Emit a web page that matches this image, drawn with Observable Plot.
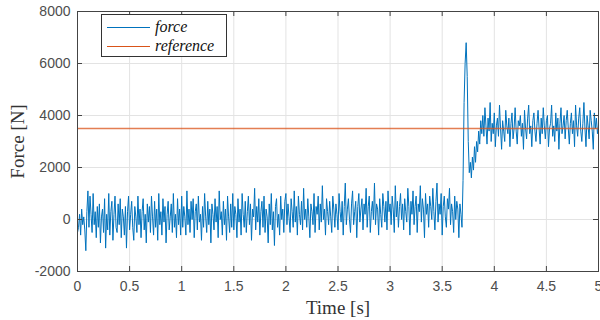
<!DOCTYPE html>
<html>
<head>
<meta charset="utf-8">
<script src="https://cdn.jsdelivr.net/npm/d3@7"></script>
<script src="https://cdn.jsdelivr.net/npm/@observablehq/plot@0.6"></script>
<style>
  html, body { margin: 0; padding: 0; background: #fff; }
  #wrap { position: relative; width: 600px; height: 320px; }
  #legend { position: absolute; left: 101px; top: 14px; width: 124px; height: 41px;
    border: 1px solid #333; background: #fff; font-family: "Liberation Serif", serif;
    font-style: italic; font-size: 16px; color: #111; }
  .row { position: absolute; left: 5px; height: 18px; display: flex; align-items: center; }
  .sw { width: 43px; height: 0; border-top: 1.2px solid; margin-right: 5px; }
</style>
</head>
<body>
<div id="wrap"><div id="legend"></div></div>
<script>
// sample interval [s]
const dt = 0.01;
// measured force [N], sampled every dt from 0 to 5 s
const force = [
-500,-300,200,-600,400,-200,100,-400,-1200,300,
1100,-300,900,200,-500,1000,-200,300,-700,500,
-300,600,-900,100,400,-500,800,-1100,200,-400,
1000,-600,300,700,-800,200,900,-300,-500,600,
-200,800,-700,400,100,-600,500,-1100,300,900,
-400,200,700,-300,-800,500,100,-500,900,-200,
400,-700,300,800,-400,200,-900,600,-100,500,
-500,900,100,-600,700,-300,400,-800,1000,-200,
300,-600,800,-100,500,-900,200,700,-400,100,
600,-500,1000,-300,200,-700,800,-200,400,-600,
900,-300,500,100,-600,1100,-200,400,-500,700,
0,800,-700,300,600,-400,900,-100,200,-800,
500,-300,1000,100,-500,700,-200,400,-900,600,
200,-400,800,-100,500,-700,1100,0,300,-600,
700,-200,400,-800,900,100,-500,600,-300,1000,
-400,500,200,-700,800,-100,400,-600,1000,200,
-300,700,-500,300,900,-200,600,-800,400,100,
1200,-400,500,-100,800,-600,300,700,-300,900,
-500,400,100,-900,600,-200,1000,-400,300,-1000,
500,800,-300,200,-600,900,0,400,-500,700,
1000,-200,600,100,-500,800,300,-300,1100,-100,
500,-600,900,200,-200,700,-400,1200,0,400,
-300,800,100,-700,600,300,-200,1000,-500,500,
200,900,-400,600,-100,1300,0,400,-600,800,
300,-200,700,100,-500,900,400,-300,600,200,
-400,1000,300,-100,700,-600,500,1400,-200,400,
800,0,-500,600,1100,-200,300,700,-700,500,
1000,-100,400,800,-400,600,200,1200,-300,500,
900,-500,300,700,0,1400,-200,600,400,-600,
800,200,-300,1000,500,-100,700,-400,1100,300,
600,-200,900,400,-500,1300,100,700,-300,500,
1000,0,600,-400,800,300,-100,1200,500,-600,
700,200,1100,-200,500,900,-500,600,300,1300,
-100,800,400,-700,1000,200,600,-300,900,500,
0,1200,300,-400,700,1400,-100,600,200,1000,
-600,500,900,100,-300,800,400,1200,-200,600,
300,-500,900,0,700,400,-700,600,200,-300,
1500,4500,6000,6800,5500,3000,1800,2200,1600,2400,
1900,2800,2200,3000,2600,3400,2900,3800,3300,4000,
3200,4300,3600,2900,3900,3400,4500,3000,3700,3300,
4100,2800,3600,3900,3200,4400,3500,2700,3800,3400,
3000,4200,3600,3300,3900,2800,3700,4100,3100,3500,
4300,3400,2900,3800,3600,4000,3200,3700,2700,4200,
3500,3100,3900,4400,3300,3600,2800,3800,4100,3400,
3000,3700,4200,3500,2900,3900,3300,4300,3600,3100,
3800,4000,2800,3500,3700,4400,3200,3600,3000,4100,
3400,3900,2700,3700,4300,3300,3600,4000,3100,3800,
4200,3500,2900,3700,4100,3300,3800,2800,4400,3600,
3200,3900,4300,3400,3000,3700,4500,3500,2800,4000,
3600,3100,4200,3800,3400,2700,4100,3500,3900,3300,
3600
];
const reference = 3500;
const xTicks = [0, 0.5, 1, 1.5, 2, 2.5, 3, 3.5, 4, 4.5, 5];
const yTicks = [-2000, 0, 2000, 4000, 6000, 8000];
const seriesNames = ["force", "reference"];
const seriesColors = ["#0072BD", "#D95319"];
const xLabel = "Time [s]";
const yLabel = "Force [N]";

const data = force.map((f, i) => ({t: +(i * dt).toFixed(2), f}));

const W = 600, H = 320, mL = 77, mR = 2, mT = 11, mB = 49;
const fw = W - mL - mR, fh = H - mT - mB;
const axisCol = "#4d4d4d";

const chart = Plot.plot({
  width: W, height: H,
  marginLeft: mL, marginRight: mR, marginTop: mT, marginBottom: mB,
  x: {domain: [0, 5], axis: null},
  y: {domain: [-2000, 8000], axis: null},
  style: {fontFamily: "Liberation Sans, Arial, sans-serif", background: "#fff"},
  marks: [
    Plot.gridX(xTicks, {stroke: "#e3e3e3", strokeOpacity: 1}),
    Plot.gridY(yTicks, {stroke: "#e3e3e3", strokeOpacity: 1}),
    Plot.line(data, {x: "t", y: "f", stroke: seriesColors[0], strokeWidth: 1}),
    Plot.ruleY([reference], {stroke: seriesColors[1], strokeWidth: 1.3, strokeOpacity: 0.75}),
    Plot.frame({stroke: "#444"}),
    Plot.tickX(xTicks, {x: d => d, insetTop: fh - 5, stroke: "#444"}),
    Plot.tickX(xTicks, {x: d => d, insetBottom: fh - 5, stroke: "#444"}),
    Plot.tickY(yTicks, {y: d => d, insetRight: fw - 5, stroke: "#444"}),
    Plot.tickY(yTicks, {y: d => d, insetLeft: fw - 5, stroke: "#444"}),
    Plot.axisX(xTicks, {tickSize: 0, tickPadding: 10, fontSize: 14, fill: axisCol, tickFormat: d => String(d), label: null}),
    Plot.axisY(yTicks, {tickSize: 0, tickPadding: 7, fontSize: 14, fill: axisCol, tickFormat: d => String(d), label: null}),
    Plot.text([xLabel], {frameAnchor: "bottom", dy: 42, fontSize: 19, fontFamily: "Liberation Serif, serif", fill: "#333", textAnchor: "middle"}),
    Plot.text([yLabel], {frameAnchor: "left", dx: -60, rotate: -90, fontSize: 19, fontFamily: "Liberation Serif, serif", fill: "#333", textAnchor: "middle"})
  ]
});
document.getElementById("wrap").prepend(chart);

const leg = document.getElementById("legend");
seriesNames.forEach((name, i) => {
  const row = document.createElement("div");
  row.className = "row";
  row.style.top = (3 + i * 19) + "px";
  const sw = document.createElement("div");
  sw.className = "sw";
  sw.style.borderColor = seriesColors[i];
  const tx = document.createElement("span");
  tx.textContent = name;
  row.append(sw, tx);
  leg.append(row);
});
</script>
</body>
</html>
